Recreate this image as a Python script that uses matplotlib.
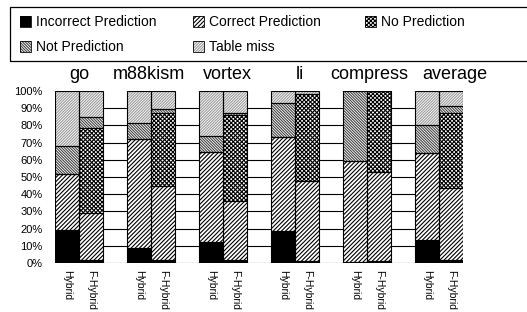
import numpy as np
import matplotlib.pyplot as plt
from matplotlib.patches import Rectangle

plt.rcParams['font.family'] = ['Liberation Sans', 'DejaVu Sans']
plt.rcParams['hatch.linewidth'] = 0.8

groups = ['go', 'm88kism', 'vortex', 'li', 'compress', 'average']
bar_names = ['Hybrid', 'F-Hybrid']

# segment sizes in %, order: Hybrid, F-Hybrid for each group
incorrect = [19, 2, 9, 2, 12.5, 1.5, 18.5, 1, 0.5, 1, 13.5, 2]
correct = [33, 27, 63, 43, 52, 34.5, 55, 46.5, 59, 52, 50.5, 41.5]
no_pred = [0, 49.5, 0, 42, 0, 50, 0, 50.5, 0, 47, 0, 43.5]
not_pred = [16, 6.5, 9.5, 2.5, 9.5, 1, 19.5, 0.5, 40.5, 0, 16, 4]
table_miss = [32, 15, 18.5, 10.5, 26, 13, 7, 1.5, 0, 0, 20, 9]

series = [
    ('Incorrect Prediction', incorrect, dict(fc='black', hatch=None, hc='black')),
    ('Correct Prediction', correct, dict(fc='white', hatch='/' * 8, hc='black')),
    ('No Prediction', no_pred, dict(fc='white', hatch='x' * 8, hc='black')),
    ('Not Prediction', not_pred, dict(fc='white', hatch='\\' * 12, hc='#444444')),
    ('Table miss', table_miss, dict(fc='white', hatch='/' * 12, hc='#9a9a9a')),
]

W, H = 527, 312
fig = plt.figure(figsize=(W / 100, H / 100), dpi=100)
ax = fig.add_axes([55 / W, 1 - 263 / H, 408 / W, 172 / H])

x = []
for i in range(len(groups)):
    x += [3 * i - 0.5, 3 * i + 0.5]
x = np.array(x)

bottom = np.zeros(len(x))
for name, vals, st in series:
    vals = np.array(vals)
    ax.bar(x, vals, width=1, bottom=bottom, color=st['fc'], hatch=st['hatch'],
           edgecolor=st['hc'], linewidth=0, zorder=2)
    ax.bar(x, vals, width=1, bottom=bottom, fill=False, edgecolor='black',
           linewidth=0.8, zorder=3)
    bottom += vals

ax.set_xlim(-1, 3 * len(groups) - 2)
ax.set_ylim(0, 100)
for v in range(0, 100, 10):
    ax.axhline(v, color='black', lw=0.8, zorder=1)
for s in ax.spines.values():
    s.set_visible(False)
ax.set_yticks(range(0, 101, 10))
ax.set_yticklabels([f'{v}%' for v in range(0, 101, 10)], fontsize=8)
ax.set_xticks(x)
ax.set_xticklabels(bar_names * len(groups), rotation=-90, fontsize=7.5, va='top')
ax.tick_params(length=0)
ax.tick_params(axis='y', pad=9)
ax.tick_params(axis='x', pad=5)

label_shift = [0, -0.1, 0.2, 0.2, 0.1, 0.65]
for i, g in enumerate(groups):
    ax.text(3 * i + label_shift[i], 1.095, g, transform=ax.get_xaxis_transform(),
            ha='center', va='center', fontsize=13)

# legend box drawn by hand
fig.patches.append(Rectangle((10 / W, 1 - 61 / H), 530 / W, 54 / H, fill=False,
                             edgecolor='black', lw=0.9, transform=fig.transFigure))
legend_pos = [(20, 22), (193, 22), (365, 22), (20, 47), (193, 47)]
for (name, vals, st), (px, py) in zip(series, legend_pos):
    fig.patches.append(Rectangle((px / W, 1 - (py + 5) / H), 11 / W, 11 / H,
                                 facecolor=st['fc'], hatch=st['hatch'],
                                 edgecolor=st['hc'], lw=0, transform=fig.transFigure))
    fig.patches.append(Rectangle((px / W, 1 - (py + 5) / H), 11 / W, 11 / H,
                                 fill=False, edgecolor='black', lw=0.6,
                                 transform=fig.transFigure))
    fig.text((px + 16) / W, 1 - py / H, name, fontsize=10, va='center', ha='left')

fig.savefig('out.png', dpi=100)
